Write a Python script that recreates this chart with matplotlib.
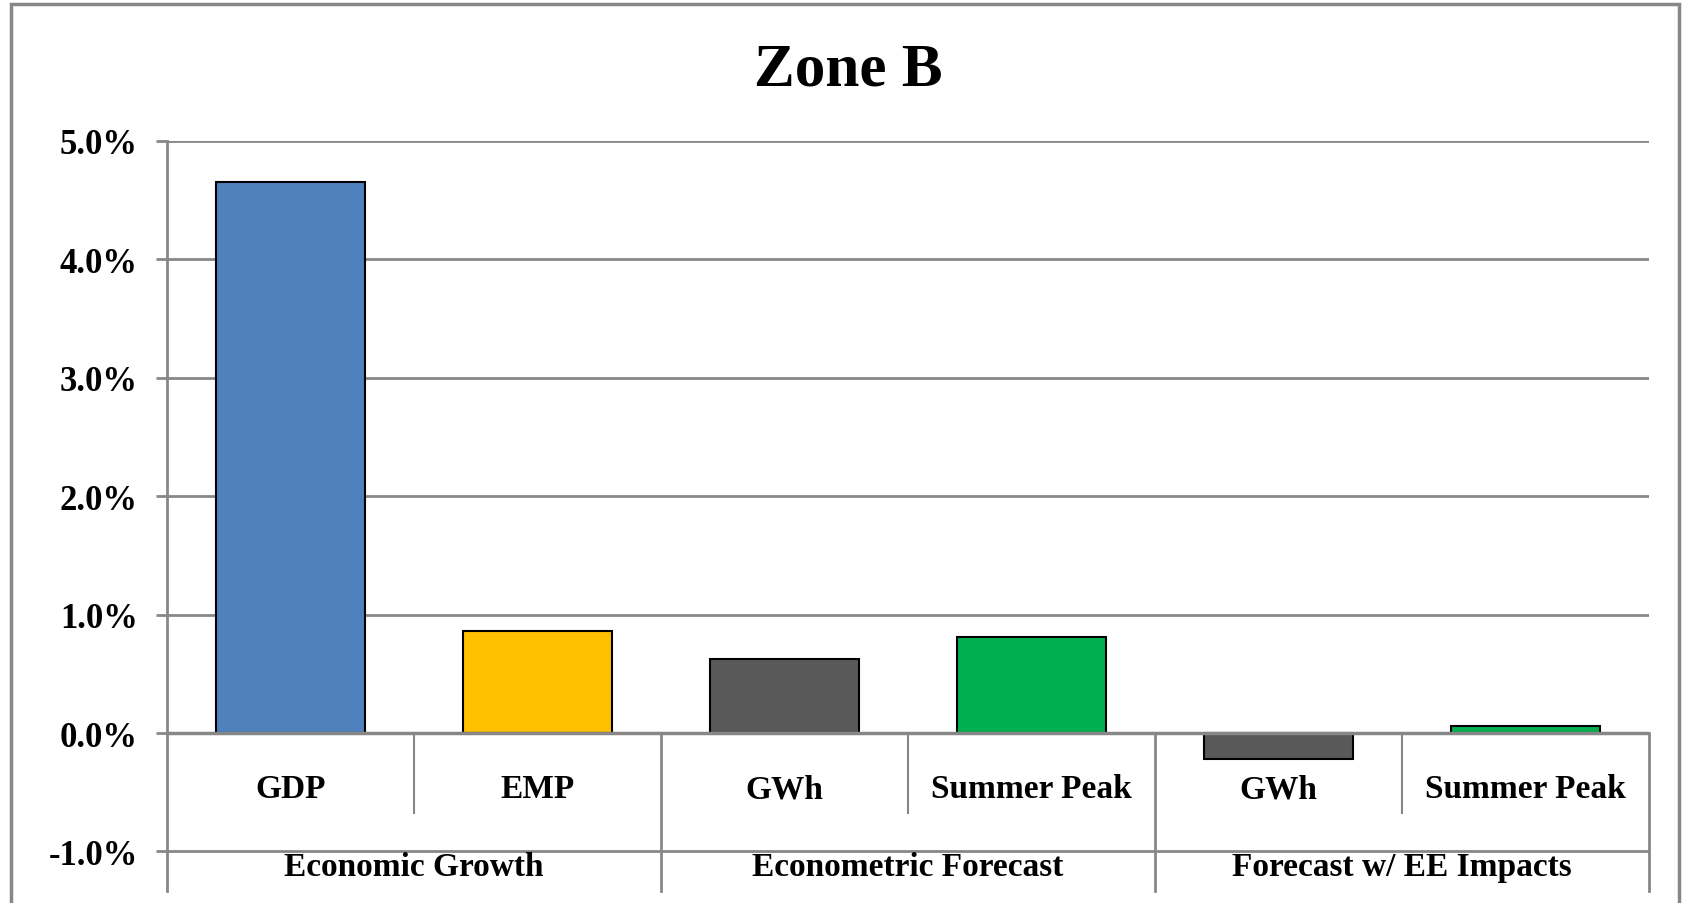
import matplotlib.pyplot as plt
from matplotlib.patches import Rectangle
from matplotlib.ticker import FuncFormatter

# data
groups = ['Economic Growth', 'Econometric Forecast', 'Forecast w/ EE Impacts']
labels = ['GDP', 'EMP', 'GWh', 'Summer Peak', 'GWh', 'Summer Peak']
values = [4.65, 0.86, 0.625, 0.815, -0.22, 0.06]
colors = ['#4F81BD', '#FFC000', '#595959', '#00B050', '#595959', '#00B050']

plt.rcParams['font.family'] = ['Liberation Serif', 'DejaVu Serif']
plt.rcParams['font.weight'] = 'bold'

fig = plt.figure(figsize=(16.9, 9.04), dpi=100)
ax = fig.add_axes([0.0988, 0.0133, 0.8769, 0.8297])

x = list(range(len(labels)))
ax.bar(x, values, width=0.6, color=colors, edgecolor='black', linewidth=1.5, zorder=3)

ymin = -1.334
ax.set_xlim(-0.5, len(labels) - 0.5)
ax.set_ylim(ymin, 5.0)
ax.set_yticks([-1, 0, 1, 2, 3, 4, 5])
ax.yaxis.set_major_formatter(FuncFormatter(lambda v, p: f'{v:.1f}%'))
ax.tick_params(axis='y', labelsize=25, length=8, width=2, color='#878787', pad=13)
ax.set_xticks([])
for lbl in ax.get_yticklabels():
    lbl.set_fontweight('bold')

ax.grid(axis='y', color='#878787', linewidth=2, zorder=0)
for s in ['top', 'right', 'bottom']:
    ax.spines[s].set_visible(False)
ax.spines['left'].set_color('#878787')
ax.spines['left'].set_linewidth(2)

# category axis at zero
ax.axhline(0, color='#878787', linewidth=2.5, zorder=4)

# level-1 labels and separators
for i, lab in enumerate(labels):
    ax.text(i, -0.47, lab, ha='center', va='center', fontsize=24, fontweight='bold')
for i in [1, 3, 5]:
    ax.plot([i - 0.5, i - 0.5], [0, -0.675], color='#878787', linewidth=1.5, zorder=2)

# level-2 labels and separators
for g, name in enumerate(groups):
    ax.text(2 * g + 0.5, -1.13, name, ha='center', va='center', fontsize=24, fontweight='bold')
for i in [2, 4, 6]:
    ax.plot([i - 0.5, i - 0.5], [0, ymin], color='#878787', linewidth=2, zorder=2, clip_on=False)

fig.text(0.502, 0.922, 'Zone B', ha='center', va='center', fontsize=44, fontweight='bold')

# outer chart border
fig.patches.append(Rectangle((0.0065, -0.01), 0.987, 1.004, transform=fig.transFigure,
                             fill=False, edgecolor='#878787', linewidth=2.5))

fig.savefig('out.png', dpi=100)
